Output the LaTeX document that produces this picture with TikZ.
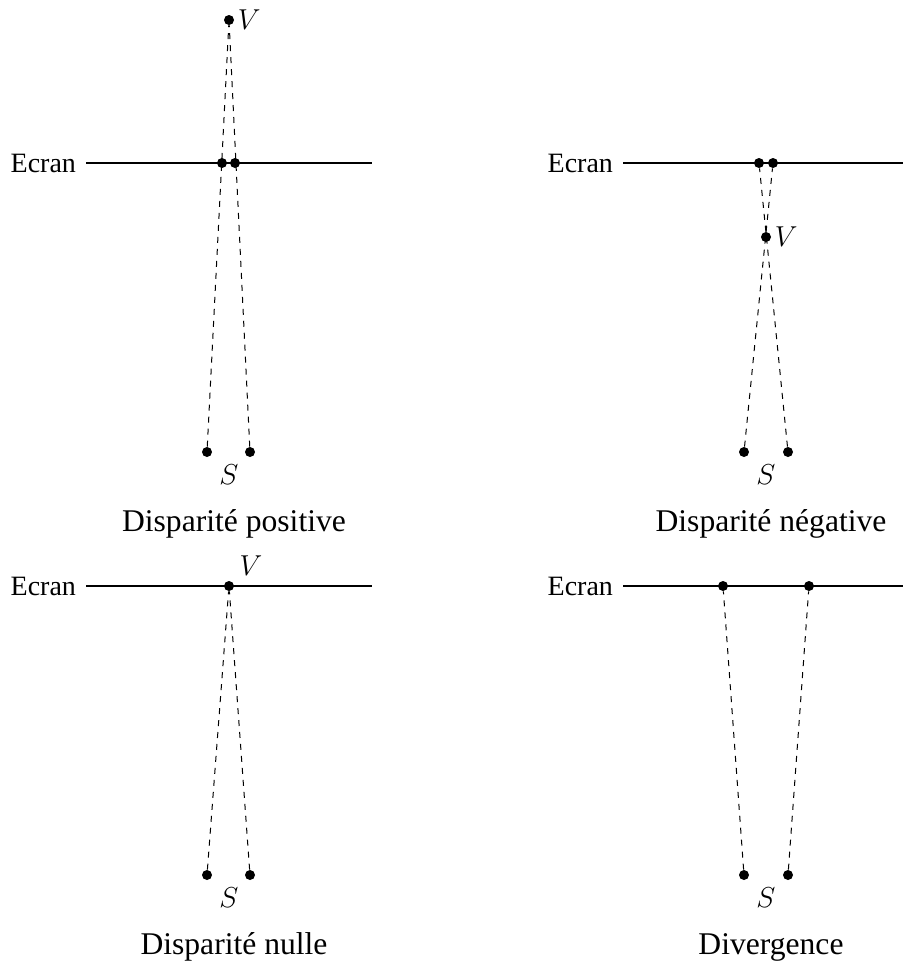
\documentclass[tikz,border=0pt]{standalone}
\usepackage{fontspec}
\setmainfont{Liberation Serif}
\usetikzlibrary{positioning}

\tikzset{
  eye/.style={circle, fill=black, inner sep=0pt, minimum size=5pt},
  screen/.style={line width=0.9pt},
  ray/.style={dashed, line width=0.5pt},
  lbl/.style={font=\fontsize{14}{16}\selectfont},
  sym/.style={font=\fontsize{15}{17}\selectfont, inner sep=1.5pt},
  caption/.style={font=\fontsize{15.8}{18}\selectfont}
}

\begin{document}
\begin{tikzpicture}[x=0.5pt,y=-0.5pt]
\useasboundingbox (0,0) rectangle (902,964);

% Disparite positive
\coordinate (sa1) at (86,163);
\coordinate (sb1) at (372,163);
\draw[screen] (sa1) -- (sb1);
\node[lbl, anchor=east] (ecran1) at (83,163) {Ecran};
\node[eye] (v1) at (229,20) {};
\node[sym, right=0pt of v1] (vl1) {$V$};
\node[eye] (el1) at (207,452) {};
\node[eye] (er1) at (250,452) {};
\node[eye] (p1) at (222,163) {};
\node[eye] (q1) at (235,163) {};
\node[sym] (sl1) at (229,475) {$S$};
\draw[ray] (el1) -- (v1);
\draw[ray] (er1) -- (v1);
\node[caption] (cap1) at (234,524) {Disparité positive};

% Disparite negative
\coordinate (sa2) at (623,163);
\coordinate (sb2) at (909,163);
\draw[screen] (sa2) -- (sb2);
\node[lbl, anchor=east] (ecran2) at (620,163) {Ecran};
\node[eye] (v2) at (766,237) {};
\node[sym, right=0pt of v2] (vl2) {$V$};
\node[eye] (el2) at (744,452) {};
\node[eye] (er2) at (788,452) {};
\node[eye] (p2) at (759,163) {};
\node[eye] (q2) at (773,163) {};
\node[sym] (sl2) at (766,475) {$S$};
\draw[ray] (el2) -- (q2);
\draw[ray] (er2) -- (p2);
\node[caption] (cap2) at (771,524) {Disparité négative};

% Disparite nulle
\coordinate (sa3) at (86,586);
\coordinate (sb3) at (372,586);
\draw[screen] (sa3) -- (sb3);
\node[lbl, anchor=east] (ecran3) at (83,586) {Ecran};
\node[eye] (v3) at (229,586) {};
\node[sym] (vl3) at (251,566) {$V$};
\node[eye] (el3) at (207,875) {};
\node[eye] (er3) at (250,875) {};
\node[sym] (sl3) at (229,898) {$S$};
\draw[ray] (el3) -- (v3);
\draw[ray] (er3) -- (v3);
\node[caption] (cap3) at (234,947) {Disparité nulle};

% Divergence
\coordinate (sa4) at (623,586);
\coordinate (sb4) at (909,586);
\draw[screen] (sa4) -- (sb4);
\node[lbl, anchor=east] (ecran4) at (620,586) {Ecran};
\node[eye] (p4) at (723,586) {};
\node[eye] (q4) at (809,586) {};
\node[eye] (el4) at (744,875) {};
\node[eye] (er4) at (788,875) {};
\node[sym] (sl4) at (766,898) {$S$};
\draw[ray] (el4) -- (p4);
\draw[ray] (er4) -- (q4);
\node[caption] (cap4) at (771,947) {Divergence};
\end{tikzpicture}
\end{document}
